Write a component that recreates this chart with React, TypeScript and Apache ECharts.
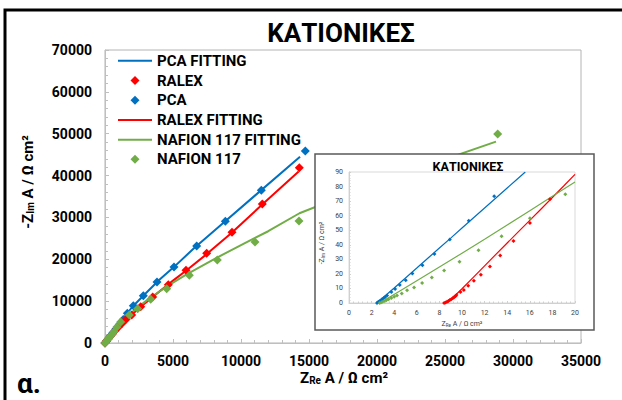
import React, { useEffect, useRef } from "react";
import * as echarts from "echarts";

const FONT = "Roboto";

// ---- main chart data (Z_Re, -Z_Im) ----
const pcaX = [0, 120, 250, 400, 580, 800, 1050, 1340, 1641, 2084, 2818, 3824, 5074, 6741, 8849, 11493, 14728];
const pcaY = [0, 500, 1050, 1700, 2450, 3350, 4400, 5600, 7095, 8911, 11300, 14573, 18156, 23173, 29074, 36480, 45870];
const ralexX = [0, 110, 230, 370, 540, 740, 980, 1250, 1560, 1961, 2624, 3505, 4657, 5956, 7478, 9338, 11566, 14287];
const ralexY = [0, 450, 950, 1500, 2150, 2900, 3750, 4650, 5650, 6689, 8672, 10989, 13928, 17368, 21430, 26446, 33207, 41880];
const nafX = [0, 100, 210, 340, 490, 660, 880, 1152, 1789, 2402, 3358, 4534, 6201, 8260, 11030, 14265, 28873];
const nafY = [0, 420, 880, 1400, 2000, 2700, 3800, 5017, 6689, 8194, 10440, 12972, 16173, 19829, 24129, 29146, 49930];

const pcaFitX = [0, 500, 1000, 2000, 3000, 4000, 5000, 6500, 8500, 11000, 14340];
const pcaFitY = [0, 2300, 4450, 8600, 11900, 15100, 17950, 22500, 28150, 35150, 44500];
const ralexFitX = [0, 500, 1000, 2000, 3000, 4000, 5000, 6000, 7500, 9300, 11500, 14240];
const ralexFitY = [0, 2100, 3900, 6850, 9650, 12300, 14900, 17400, 21300, 26300, 32900, 41000];
const nafFitX = [0, 500, 1000, 2000, 3000, 4000, 5000, 6000, 8000, 10000, 12000, 14300, 20000, 28750];
const nafFitY = [0, 2300, 4300, 7400, 10000, 12300, 14400, 16400, 20000, 23400, 26700, 31000, 38300, 48100];

// ---- inset data ----
const iPcaX = [2.48, 2.6, 2.75, 2.9, 3.05, 3.2, 3.37, 3.75, 4.08, 4.49, 5.02, 5.61, 6.5, 7.56, 8.92, 10.6, 12.85];
const iPcaY = [0, 0.8, 1.6, 2.4, 3.2, 4.2, 5.2, 7.5, 9.6, 12.3, 15.7, 20.3, 26, 33.7, 43.7, 56.5, 73.4];
const iRalexX = [8.42, 8.55, 8.68, 8.8, 8.92, 9.05, 9.18, 9.3, 9.42, 9.51, 9.87, 10.16, 10.55, 11.05, 11.67, 12.47, 13.38, 14.56, 16.01, 17.78];
const iRalexY = [0, 0.4, 0.9, 1.4, 2.0, 2.6, 3.3, 4.0, 4.7, 5.5, 7.5, 8.9, 11.8, 15.3, 19.4, 25.1, 32.6, 42.6, 54.9, 71.3];
const iNafX = [2.72, 2.9, 3.1, 3.3, 3.5, 3.75, 4.0, 4.25, 4.67, 5.14, 5.76, 6.47, 7.33, 8.42, 9.78, 11.46, 13.5, 16.01, 19.14];
const iNafY = [0, 0.6, 1.2, 1.9, 2.6, 3.4, 4.3, 5.2, 6.6, 8.7, 10.7, 13.7, 17.5, 22.3, 28.3, 36.2, 45.8, 58.3, 74.7];

const iPcaFitX = [2.45, 3, 4, 5, 6, 7, 8, 9, 10, 11, 12, 13, 14, 15, 15.6];
const iPcaFitY = [0, 3.6, 10.3, 17.2, 24.0, 30.9, 37.8, 44.6, 51.5, 58.4, 65.3, 72.1, 79.0, 85.9, 90];
const iRalexFitX = [8.48, 9, 9.5, 10, 11, 12, 13, 14, 15, 16, 17, 18, 19, 20];
const iRalexFitY = [0, 2.6, 6.0, 9.8, 17.6, 25.5, 33.4, 41.2, 49.0, 56.8, 64.6, 72.5, 80.4, 88.4];
const iNafFitX = [2.72, 3.5, 4.5, 6, 8, 10, 12, 14, 16, 18, 20];
const iNafFitY = [0, 3.6, 8.3, 15.3, 24.7, 34.2, 43.8, 53.6, 63.4, 73.3, 83.2];

const legendNames = ["PCA FITTING", "RALEX", "PCA", "RALEX FITTING", "NAFION 117 FITTING", "NAFION 117"];
const titleText = "ΚΑΤΙΟΝΙΚΕΣ";

const BLUE = "#0070C0";
const RED = "#FF0000";
const GREEN = "#70AD47";

const LINE_ICON = "path://M0 0 M34 10 M0 4 L34 4 L34 6 L0 6 Z";
const DIAMOND_ICON = "path://M0 0 M34 10 M17 0.5 L21.5 5 L17 9.5 L12.5 5 Z";

const zip = (xs: number[], ys: number[]) => xs.map((x, i) => [x, ys[i]]);

function buildOption() {
  const mainAxisCommon = {
    axisLine: { show: true, lineStyle: { color: "#bfbfbf", width: 1 } },
    axisTick: { show: true, inside: true, length: 4, lineStyle: { color: "#bfbfbf" } },
    minorTick: { show: true, splitNumber: 5, length: 3, lineStyle: { color: "#bfbfbf" } },
    splitLine: { show: false },
    axisLabel: { fontFamily: FONT, fontWeight: "bold" as const, fontSize: 14, color: "#000", formatter: (v: number) => String(v) },
  };
  const insetAxisCommon = {
    z: 11,
    axisLine: { show: true, lineStyle: { color: "#d0d0d0", width: 1 } },
    axisTick: { show: true, inside: true, length: 2, lineStyle: { color: "#d0d0d0" } },
    minorTick: { show: true, splitNumber: 5, length: 1.5, lineStyle: { color: "#d0d0d0" } },
    splitLine: { show: false },
    axisLabel: { fontFamily: FONT, fontSize: 7, color: "#404040", formatter: (v: number) => String(v) },
  };
  const fit = (name: string, color: string, xs: number[], ys: number[], axis: number, w: number, z: number) => ({
    name,
    type: "line",
    xAxisIndex: axis,
    yAxisIndex: axis,
    data: zip(xs, ys),
    symbol: "none",
    showSymbol: false,
    lineStyle: { color, width: w },
    itemStyle: { color },
    z,
  });
  const pts = (name: string, color: string, xs: number[], ys: number[], axis: number, size: number, z: number) => ({
    name,
    type: "scatter",
    xAxisIndex: axis,
    yAxisIndex: axis,
    data: zip(xs, ys),
    symbol: "diamond",
    symbolSize: size,
    itemStyle: { color, opacity: 1 },
    z,
  });

  const richMain = {
    m: { fontFamily: FONT, fontWeight: "bold", fontSize: 15, lineHeight: 15, fill: "#000", verticalAlign: "middle" },
    s: { fontFamily: FONT, fontWeight: "bold", fontSize: 10, lineHeight: 15, fill: "#000", verticalAlign: "bottom" },
  };
  const richInset = {
    m: { fontFamily: FONT, fontSize: 7, lineHeight: 8, fill: "#404040", verticalAlign: "middle" },
    s: { fontFamily: FONT, fontSize: 4.5, lineHeight: 8, fill: "#404040", verticalAlign: "bottom" },
  };

  const legendIcons: Record<string, string> = {
    "PCA FITTING": LINE_ICON,
    RALEX: DIAMOND_ICON,
    PCA: DIAMOND_ICON,
    "RALEX FITTING": LINE_ICON,
    "NAFION 117 FITTING": LINE_ICON,
    "NAFION 117": DIAMOND_ICON,
  };

  return {
    animation: false,
    backgroundColor: "#fff",
    grid: [
      { left: 105, right: 41, top: 50, bottom: 57, show: true, borderColor: "#b4b4b4", borderWidth: 1, backgroundColor: "transparent" },
      { left: 349, right: 47, top: 172, bottom: 97, show: true, borderColor: "#d9d9d9", borderWidth: 1, backgroundColor: "#fff", z: 11 },
    ],
    xAxis: [
      { type: "value", gridIndex: 0, min: 0, max: 35000, interval: 5000, ...mainAxisCommon, axisLabel: { ...mainAxisCommon.axisLabel, margin: 11 } },
      { type: "value", gridIndex: 1, min: 0, max: 20, interval: 2, ...insetAxisCommon, axisLabel: { ...insetAxisCommon.axisLabel, margin: 6 } },
    ],
    yAxis: [
      { type: "value", gridIndex: 0, min: 0, max: 70000, interval: 10000, ...mainAxisCommon, axisLabel: { ...mainAxisCommon.axisLabel, margin: 13 } },
      { type: "value", gridIndex: 1, min: 0, max: 90, interval: 10, ...insetAxisCommon, axisLabel: { ...insetAxisCommon.axisLabel, margin: 6 } },
    ],
    legend: {
      data: legendNames.map((n) => ({ name: n, icon: legendIcons[n] })),
      orient: "vertical",
      left: 118,
      top: 51,
      itemWidth: 34,
      itemHeight: 10,
      itemGap: 0,
      padding: 0,
      itemStyle: { borderWidth: 0 },
      textStyle: { fontFamily: FONT, fontWeight: "bold", fontSize: 15, color: "#000", lineHeight: 19.7 },
    },
    graphic: {
      elements: [
        { type: "rect", z: 0, silent: true, shape: { x: 5, y: 10, width: 700, height: 500 }, style: { fill: "none", stroke: "#000", lineWidth: 3 } },
        { type: "text", z: 5, x: 341, y: 33, style: { text: titleText, font: `bold 26px ${FONT}`, fill: "#000", align: "center", verticalAlign: "middle" } },
        { type: "text", z: 5, x: 344, y: 378, style: { text: "{m|Z}{s|Re}{m| A / Ω cm²}", rich: richMain, align: "center", verticalAlign: "middle" } },
        { type: "text", z: 5, x: 28, y: 182, rotation: Math.PI / 2, style: { text: "{m|-Z}{s|Im}{m| A / Ω cm²}", rich: richMain, align: "center", verticalAlign: "middle" } },
        { type: "text", z: 5, x: 17, y: 383, style: { text: "α.", font: `bold 28px ${FONT}`, fill: "#000", align: "left", verticalAlign: "middle" } },
        { type: "rect", z: 10, silent: true, shape: { x: 315, y: 154, width: 279, height: 176 }, style: { fill: "#fff", stroke: "#595959", lineWidth: 1.5 } },
        { type: "text", z: 12, x: 468, y: 166, style: { text: titleText, font: `bold 12.5px ${FONT}`, fill: "#000", align: "center", verticalAlign: "middle" } },
        { type: "text", z: 12, x: 462, y: 324, style: { text: "{m|Z}{s|Re}{m| A / Ω cm²}", rich: richInset, align: "center", verticalAlign: "middle" } },
        { type: "text", z: 12, x: 322, y: 243, rotation: Math.PI / 2, style: { text: "{m|-Z}{s|Im}{m| A / Ω cm²}", rich: richInset, align: "center", verticalAlign: "middle" } },
      ],
    },
    series: [
      fit("PCA FITTING", BLUE, pcaFitX, pcaFitY, 0, 2, 2),
      fit("RALEX FITTING", RED, ralexFitX, ralexFitY, 0, 2, 2),
      fit("NAFION 117 FITTING", GREEN, nafFitX, nafFitY, 0, 2, 2),
      pts("PCA", BLUE, pcaX, pcaY, 0, 9, 3),
      pts("RALEX", RED, ralexX, ralexY, 0, 9, 3),
      pts("NAFION 117", GREEN, nafX, nafY, 0, 9, 3),
      fit("i PCA FITTING", BLUE, iPcaFitX, iPcaFitY, 1, 1.2, 12),
      fit("i RALEX FITTING", RED, iRalexFitX, iRalexFitY, 1, 1.2, 12),
      fit("i NAFION 117 FITTING", GREEN, iNafFitX, iNafFitY, 1, 1.2, 12),
      pts("i PCA", BLUE, iPcaX, iPcaY, 1, 4, 13),
      pts("i RALEX", RED, iRalexX, iRalexY, 1, 4, 13),
      pts("i NAFION 117", GREEN, iNafX, iNafY, 1, 4, 13),
    ],
  };
}

export default function App() {
  const ref = useRef<HTMLDivElement>(null);
  useEffect(() => {
    if (!ref.current) return;
    const chart = echarts.init(ref.current, null, { renderer: "svg" });
    chart.setOption(buildOption() as any);
    return () => chart.dispose();
  }, []);
  return <div ref={ref} style={{ position: "absolute", left: 0, top: 0, width: 622, height: 400 }} />;
}
